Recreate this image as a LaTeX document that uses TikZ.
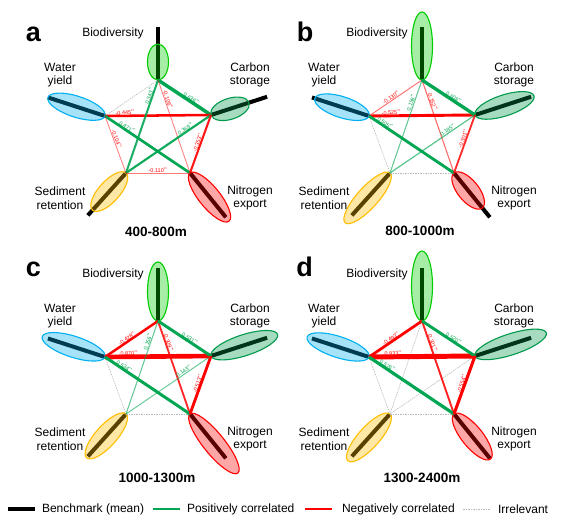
\documentclass[tikz,border=0pt]{standalone}
\usepackage{fontspec}
\setmainfont{Liberation Sans}
\usetikzlibrary{calc}
\usetikzlibrary{shapes.geometric}

\definecolor{poscol}{RGB}{0,166,81}
\definecolor{negcol}{RGB}{255,0,0}
\definecolor{biocol}{RGB}{0,204,0}
\definecolor{carcol}{RGB}{0,153,76}
\definecolor{watcol}{RGB}{0,176,240}
\definecolor{sedcol}{RGB}{255,190,0}
\definecolor{nitcol}{RGB}{255,0,0}
\definecolor{irrcol}{RGB}{185,185,185}

% correlation line: from, to, value, label position
\newcommand{\corr}[4]{%
  \pgfmathsetmacro{\cw}{0.3+5*abs(#3)}%
  \pgfmathsetmacro{\co}{min(1,0.35+1.6*abs(#3))}%
  \ifdim #3pt<0pt \def\cc{negcol}\else\def\cc{poscol}\fi
  \draw [draw=\cc, line width=\cw pt, draw opacity=\co] (#1) -- (#2) node[corrlabel, text=\cc, pos=#4] {#3\textsuperscript{**}};
}

% prefix, then ellipse lengths: bio, car, wat, sed, nit
\newcommand{\pentagon}[6]{%
  \coordinate (#1bio) at (158,450);
  \coordinate (#1car) at (211,415);
  \coordinate (#1wat) at (105,414);
  \coordinate (#1sed) at (126,357);
  \coordinate (#1nit) at (190,357);
  \draw [bench] (#1bio) -- ++(90:53);
  \draw [bench] (#1car) -- ++(18:59);
  \draw [bench] (#1wat) -- ++(162:60);
  \draw [bench] (#1sed) -- ++(228:57);
  \draw [bench] (#1nit) -- ++(309:57);
  \node (#1bioE) at ($(#1bio)+(90:#2/2)$) [service, rotate=90, minimum width=#2, draw=biocol, fill=biocol] {};
  \node (#1carE) at ($(#1car)+(18:#3/2)$) [service, rotate=18, minimum width=#3, draw=carcol, fill=carcol] {};
  \node (#1watE) at ($(#1wat)+(162:#4/2)$) [service, rotate=162, minimum width=#4, draw=watcol, fill=watcol] {};
  \node (#1sedE) at ($(#1sed)+(228:#5/2)$) [service, rotate=228, minimum width=#5, draw=sedcol, fill=sedcol] {};
  \node (#1nitE) at ($(#1nit)+(309:#6/2)$) [service, rotate=309, minimum width=#6, draw=nitcol, fill=nitcol] {};
  \node (#1bioL) at (113,497) [svclabel] {Biodiversity};
  \node (#1watL) at (60,455) [svclabel] {Water\\yield};
  \node (#1carL) at (250,455) [svclabel] {Carbon\\storage};
  \node (#1sedL) at (60,332) [svclabel] {Sediment\\retention};
  \node (#1nitL) at (250,332) [svclabel] {Nitrogen\\export};
}

\begin{document}
\begin{tikzpicture}[x=1pt,y=1pt,every node/.style={inner sep=0pt,outer sep=0pt}]

\tikzstyle{bench}=[line width=4pt,black]
\tikzstyle{service}=[ellipse,minimum height=21pt,fill opacity=0.35,line width=1.1pt]
\tikzstyle{svclabel}=[align=center,font=\fontsize{12}{13.5}\selectfont]
\tikzstyle{corrlabel}=[sloped,above=0.8pt,font=\fontsize{5.5}{6}\selectfont]
\tikzstyle{irrel}=[irrcol,line width=0.6pt,dash pattern=on 1.5pt off 1pt]
\tikzstyle{paneltitle}=[font=\bfseries\fontsize{13.5}{15}\selectfont]
\tikzstyle{panelletter}=[anchor=base,font=\bfseries\fontsize{27}{30}\selectfont]
\tikzstyle{legendtext}=[anchor=west,font=\fontsize{12}{13.5}\selectfont]

\fill [white] (0,0) rectangle (561,530);
\useasboundingbox (0,0) rectangle (561,530);

% a
\pentagon{a}{36}{40}{60}{50}{62}
\draw [irrel] (abio) -- (awat);
\corr{abio}{acar}{0.636}{0.6}
\corr{awat}{acar}{-0.445}{0.19}
\corr{abio}{ased}{0.343}{0.18}
\corr{abio}{anit}{-0.106}{0.22}
\corr{awat}{anit}{0.471}{0.24}
\corr{acar}{ased}{0.369}{0.28}
\corr{acar}{anit}{-0.353}{0.5}
\corr{awat}{ased}{-0.104}{0.42}
\corr{ased}{anit}{-0.110}{0.5}
\node (aletter) at (33.5,488) [panelletter] {a};
\node (atitle) at (156,298) [paneltitle] {400-800m};

% b
\begin{scope}[shift={(264,0)}]
\pentagon{b}{68}{62}{57}{67}{45}
\draw [irrel] (bwat) -- (bsed);
\draw [irrel] (bsed) -- (bnit);
\corr{bbio}{bwat}{-0.130}{0.55}
\corr{bwat}{bcar}{-0.525}{0.21}
\corr{bbio}{bsed}{0.156}{0.25}
\corr{bbio}{bnit}{-0.152}{0.24}
\corr{bbio}{bcar}{0.608}{0.57}
\corr{bwat}{bnit}{0.505}{0.17}
\corr{bcar}{bsed}{0.185}{0.3}
\corr{bcar}{bnit}{-0.301}{0.43}
\node (bletter) at (41,488) [panelletter] {b};
\node (btitle) at (156,299) [paneltitle] {800-1000m};
\end{scope}

% c
\begin{scope}[shift={(0,-241)}]
\pentagon{c}{59}{70}{66}{59}{76}
\draw [irrel] (cwat) -- (csed);
\draw [irrel] (csed) -- (cnit);
\corr{cbio}{cwat}{-0.428}{0.55}
\corr{cwat}{ccar}{-0.870}{0.22}
\corr{cbio}{csed}{0.156}{0.23}
\corr{cbio}{cnit}{-0.309}{0.24}
\corr{cbio}{ccar}{0.531}{0.57}
\corr{cwat}{cnit}{0.534}{0.21}
\corr{ccar}{csed}{0.143}{0.3}
\corr{ccar}{cnit}{-0.513}{0.5}
\node (cletter) at (33.5,494) [panelletter] {c};
\node (ctitle) at (157,293) [paneltitle] {1000-1300m};
\end{scope}

% d
\begin{scope}[shift={(264,-241)}]
\pentagon{d}{70}{75}{65}{63}{58}
\draw [irrel] (dbio) -- (dsed);
\draw [irrel] (dwat) -- (dsed);
\draw [irrel] (dcar) -- (dsed);
\draw [irrel] (dsed) -- (dnit);
\corr{dbio}{dwat}{-0.492}{0.55}
\corr{dwat}{dcar}{-0.933}{0.22}
\corr{dbio}{dnit}{-0.321}{0.24}
\corr{dbio}{dcar}{0.520}{0.57}
\corr{dwat}{dnit}{0.576}{0.2}
\corr{dcar}{dnit}{-0.554}{0.5}
\node (dletter) at (40.5,494) [panelletter] {d};
\node (dtitle) at (158,293) [paneltitle] {1300-2400m};
\end{scope}

% legend
\draw [bench] (8,21) -- (35,21);
\node (lbench) at (42,21) [legendtext] {Benchmark (mean)};
\draw [poscol,line width=1.5pt] (153,21) -- (180,21);
\node (lpos) at (187,21) [legendtext] {Positively correlated};
\draw [negcol,line width=1.5pt] (305,21) -- (332,21);
\node (lneg) at (342,21) [legendtext] {Negatively correlated};
\draw [irrel] (463,21) -- (490,21);
\node (lirr) at (498,21) [legendtext] {Irrelevant};

\end{tikzpicture}
\end{document}
